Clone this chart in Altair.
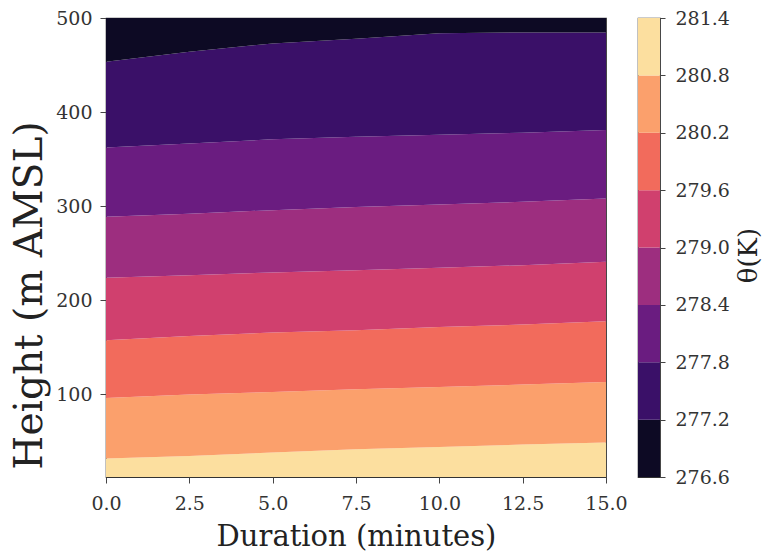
import altair as alt
import pandas as pd

# Duration axis sample points (minutes)
minutes = [0, 2.5, 5, 7.5, 10, 12.5, 15]

# Contour boundaries (m AMSL), bottom to top
b_280_8 = [31.6, 34.4, 38.0, 41.5, 43.9, 46.5, 48.6]
b_280_2 = [96.0, 99.6, 102.5, 105.3, 107.8, 110.3, 113.1]
b_279_6 = [157.4, 162.0, 165.6, 168.0, 171.6, 174.1, 177.7]
b_279_0 = [223.8, 226.6, 229.4, 231.9, 234.4, 237.2, 240.8]
b_278_4 = [288.7, 292.0, 295.7, 299.0, 301.8, 304.6, 308.0]
b_277_8 = [362.4, 366.7, 371.0, 373.7, 376.0, 378.0, 380.9]
b_277_2 = [453.5, 464.0, 473.0, 478.0, 483.7, 484.7, 484.7]

y_min = 12
y_max = 500

# Colour levels (K)
levels = [276.6, 277.2, 277.8, 278.4, 279.0, 279.6, 280.2, 280.8, 281.4]
band_colors = ["#0d0a24", "#3a1068", "#6a1c80", "#9d2e7f",
               "#d0406e", "#f26b5c", "#fba06c", "#fcdf9f"]

x_ticks = [0, 2.5, 5, 7.5, 10, 12.5, 15]
y_ticks = [100, 200, 300, 400, 500]

band_names = [f"{levels[i]:.1f}-{levels[i+1]:.1f}" for i in range(8)]

# boundaries from bottom (highest theta) to top (lowest theta)
bounds = [[y_min] * len(minutes), b_280_8, b_280_2, b_279_6, b_279_0,
          b_278_4, b_277_8, b_277_2, [y_max] * len(minutes)]

rows = []
for k in range(8):
    lo_arr = bounds[k]
    hi_arr = bounds[k + 1]
    band = band_names[7 - k]
    for i, m in enumerate(minutes):
        rows.append({"minutes": m, "lo": lo_arr[i], "hi": hi_arr[i], "band": band})
df = pd.DataFrame(rows)

cb = pd.DataFrame({"lo": levels[:-1], "hi": levels[1:], "band": band_names})

color_scale = alt.Scale(domain=band_names, range=band_colors)

main = alt.Chart(df).mark_area(interpolate="linear").encode(
    x=alt.X("minutes:Q",
            scale=alt.Scale(domain=[0, 15], nice=False, zero=False),
            axis=alt.Axis(values=x_ticks, format=".1f", title="Duration (minutes)",
                          labelFontSize=19, tickSize=6, labelPadding=11,
                          titleFontSize=29, titleBaseline="alphabetic", titleY=68,
                          domain=False, grid=False, labelFlush=False)),
    y=alt.Y("lo:Q", stack=None,
            scale=alt.Scale(domain=[y_min, y_max], nice=False, zero=False),
            axis=alt.Axis(values=y_ticks, format="d", title="Height (m AMSL)",
                          labelFontSize=19, tickSize=6, labelPadding=8,
                          titleFontSize=39, titleAngle=270, titleBaseline="alphabetic",
                          titleX=-65, titleY=277, titleAlign="center",
                          domain=False, grid=False, labelFlush=False)),
    y2="hi:Q",
    color=alt.Color("band:N", scale=color_scale, legend=None),
    detail="band:N",
).properties(width=500, height=459)

colorbar = alt.Chart(cb).mark_rect().encode(
    y=alt.Y("lo:Q",
            scale=alt.Scale(domain=[levels[0], levels[-1]], nice=False, zero=False),
            axis=alt.Axis(orient="right", values=levels, format=".1f", title="θ(K)",
                          labelFontSize=19, tickSize=5, labelPadding=10,
                          titleFontSize=26, titleAngle=270, titleBaseline="alphabetic",
                          titleX=96, titleY=237, titleAlign="center",
                          domain=False, grid=False, labelFlush=False)),
    y2="hi:Q",
    color=alt.Color("band:N", scale=color_scale, legend=None),
).properties(width=22, height=459)

chart = alt.hconcat(main, colorbar, spacing=9).properties(
    padding={"left": 9, "top": 8, "right": 0, "bottom": 0}
).configure(
    font="DejaVu Serif",
    background="white",
).configure_view(
    stroke="#333333", strokeWidth=1.2
).configure_axis(
    labelColor="#333333", titleColor="#222222", tickColor="#444444",
    labelFont="DejaVu Serif", titleFont="DejaVu Serif", titleFontWeight="normal",
)

chart.save("out.html", embed_options={"renderer": "svg", "actions": False})
